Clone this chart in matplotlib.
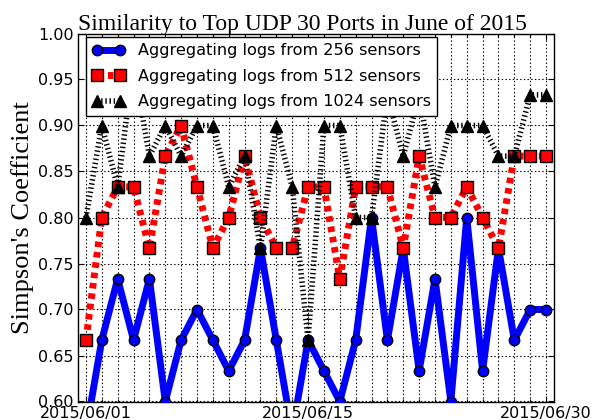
import matplotlib
matplotlib.use("Agg")
import matplotlib.pyplot as plt
import matplotlib.dates as mdates
from matplotlib.ticker import MultipleLocator, FormatStrFormatter, FixedLocator
import numpy as np
import datetime as dt

# ---- data ----
dates = [dt.datetime(2015, 6, d) for d in range(1, 31)]
sensors_256 = [0.5667, 0.6667, 0.7333, 0.6667, 0.7333, 0.6000, 0.6667, 0.7000, 0.6667, 0.6333,
               0.6667, 0.7667, 0.6667, 0.5667, 0.6667, 0.6333, 0.6000, 0.6667, 0.8000, 0.6667,
               0.7667, 0.6333, 0.7333, 0.6000, 0.8000, 0.6333, 0.7667, 0.6667, 0.7000, 0.7000]
sensors_512 = [0.6667, 0.8000, 0.8333, 0.8333, 0.7667, 0.8667, 0.9000, 0.8333, 0.7667, 0.8000,
               0.8667, 0.8000, 0.7667, 0.7667, 0.8333, 0.8333, 0.7333, 0.8333, 0.8333, 0.8333,
               0.7667, 0.8667, 0.8000, 0.8000, 0.8333, 0.8000, 0.7667, 0.8667, 0.8667, 0.8667]
sensors_1024 = [0.8000, 0.9000, 0.8333, 0.9667, 0.8667, 0.9000, 0.8667, 0.9000, 0.9000, 0.8333,
                0.8667, 0.7667, 0.9000, 0.8333, 0.6667, 0.9000, 0.9000, 0.8000, 0.8000, 0.9333,
                0.8667, 0.9333, 0.8333, 0.9000, 0.9000, 0.9000, 0.8667, 0.8667, 0.9333, 0.9333]
labels = ["Aggregating logs from 256 sensors",
          "Aggregating logs from 512 sensors",
          "Aggregating logs from 1024 sensors"]
title = "Similarity to Top UDP 30 Ports in June of 2015"
ylabel = "Simpson's Coefficient"
major_dates = [dt.datetime(2015, 6, 1), dt.datetime(2015, 6, 15), dt.datetime(2015, 6, 30)]

plt.rcParams['lines.scale_dashes'] = False

fig = plt.figure(figsize=(6.05, 4.2), dpi=100)
ax = fig.add_axes([78/605, 1 - 401.5/420, (554 - 78)/605, (401.5 - 33.5)/420])
ax.set_axisbelow(False)

ax.plot(dates, sensors_256, color='blue', lw=5, marker='o', ms=7.5,
        mfc='blue', mec='black', mew=1, label=labels[0], zorder=3)
ax.plot(dates, sensors_512, color='red', lw=5, marker='s', ms=8,
        mfc='red', mec='black', mew=1, dashes=(4, 3.5), label=labels[1], zorder=3)
ax.plot(dates, sensors_1024, color='black', lw=4, marker='^', ms=8.5,
        mfc='black', mec='black', mew=1, dashes=(1, 2), label=labels[2], zorder=3)

ax.set_ylim(0.6, 1.0)
ax.set_xlim(dt.datetime(2015, 5, 31, 12), dt.datetime(2015, 6, 30, 12))
ax.yaxis.set_major_locator(MultipleLocator(0.05))
ax.yaxis.set_major_formatter(FormatStrFormatter('%.2f'))
ax.xaxis.set_major_locator(FixedLocator(mdates.date2num(major_dates)))
ax.xaxis.set_major_formatter(mdates.DateFormatter('%Y/%m/%d'))
ax.xaxis.set_minor_locator(mdates.DayLocator())

ax.tick_params(which='both', direction='in', top=True, right=True, labelsize=11.5, pad=3)
ax.tick_params(which='major', length=4, width=0.8)
ax.tick_params(which='minor', length=2, width=0.8)

ax.grid(True, which='major', axis='y', color='black', linestyle=':', lw=0.8)
ax.grid(True, which='both', axis='x', color='black', linestyle=':', lw=0.8)

for s in ax.spines.values():
    s.set_linewidth(1.0)
    s.set_color('black')

fig.text(0.5, 1 - 30/420, title, family='Liberation Serif', fontsize=17,
         ha='center', va='baseline')
ax.set_ylabel(ylabel, family='Liberation Serif', fontsize=19, labelpad=3)

leg = ax.legend(loc='upper left', numpoints=2, fontsize=11.6, fancybox=False,
                framealpha=1, edgecolor='black', borderaxespad=0,
                bbox_to_anchor=(86/605, 1 - 37/420), bbox_transform=fig.transFigure,
                handlelength=2.0, handletextpad=0.8, labelspacing=0.65, borderpad=0.4)
leg.get_frame().set_linewidth(1.0)
leg.set_zorder(5)

fig.savefig('out.png', dpi=100)
